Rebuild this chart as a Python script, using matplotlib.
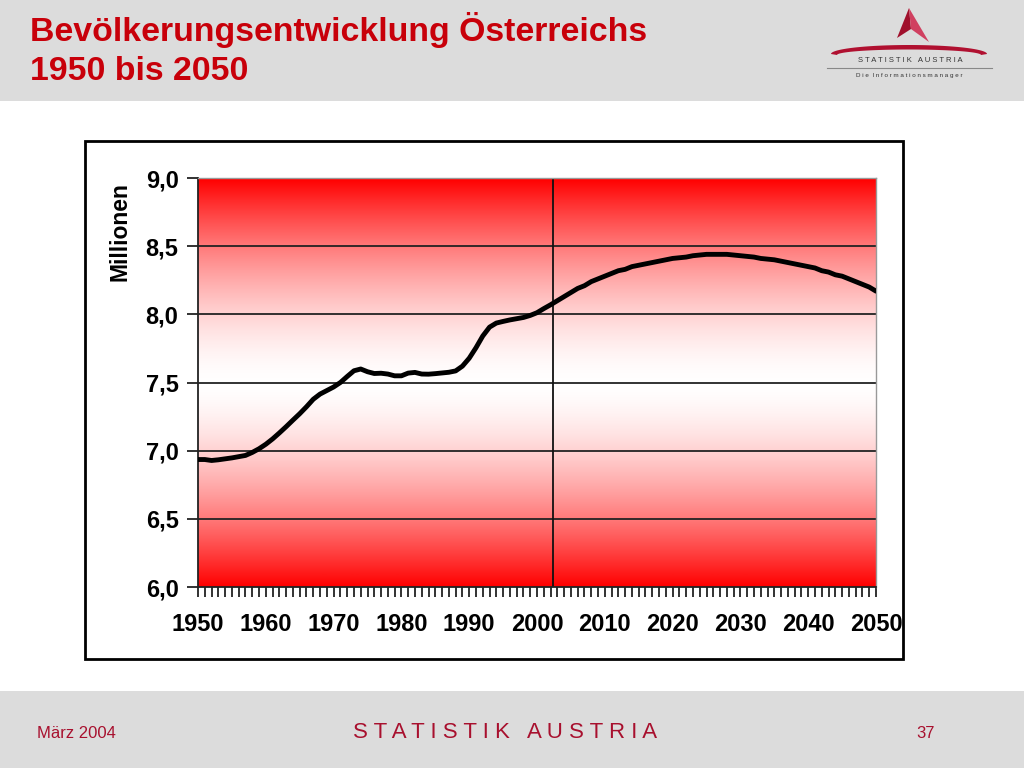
import numpy as np
import matplotlib
matplotlib.use("Agg")
import matplotlib.pyplot as plt
from matplotlib.colors import LinearSegmentedColormap
from matplotlib.patches import Rectangle, Polygon

plt.rcParams['font.family'] = ['Liberation Sans', 'DejaVu Sans']

# Data: population of Austria in millions (1950-2002 observed, then projection)
years = np.arange(1950, 2051)
population = [
    6.935, 6.935, 6.928, 6.933, 6.940, 6.947, 6.956, 6.965, 6.987, 7.014,  # 1950s
    7.047, 7.086, 7.130, 7.176, 7.224, 7.271, 7.322, 7.377, 7.415, 7.441,  # 1960s
    7.467, 7.500, 7.544, 7.586, 7.599, 7.579, 7.566, 7.568, 7.562, 7.549,  # 1970s
    7.549, 7.569, 7.574, 7.562, 7.561, 7.565, 7.570, 7.575, 7.585, 7.620,  # 1980s
    7.678, 7.755, 7.841, 7.906, 7.936, 7.948, 7.959, 7.968, 7.977, 7.992,  # 1990s
    8.012, 8.042, 8.070, 8.100, 8.130, 8.160, 8.190, 8.210, 8.240, 8.260,  # 2000s
    8.280, 8.300, 8.320, 8.330, 8.350, 8.360, 8.370, 8.380, 8.390, 8.400,  # 2010s
    8.410, 8.415, 8.420, 8.430, 8.435, 8.440, 8.440, 8.440, 8.440, 8.435,  # 2020s
    8.430, 8.425, 8.420, 8.410, 8.405, 8.400, 8.390, 8.380, 8.370, 8.360,  # 2030s
    8.350, 8.340, 8.320, 8.310, 8.290, 8.280, 8.260, 8.240, 8.220, 8.200,  # 2040s
    8.170,                                                                 # 2050
]
split_year = 2002.4  # boundary observed / projection

y_ticks = [6.0, 6.5, 7.0, 7.5, 8.0, 8.5, 9.0]
y_labels = ["6,0", "6,5", "7,0", "7,5", "8,0", "8,5", "9,0"]
x_major = list(range(1950, 2051, 10))

title = "Bevölkerungsentwicklung Österreichs\n1950 bis 2050"
title_red = "#C8000A"
brand_red = "#A8102E"
band_gray = "#DCDCDC"

fig = plt.figure(figsize=(10.24, 7.68), dpi=100)
fig.patch.set_facecolor("white")

# header / footer bands
fig.patches.append(Rectangle((0, 1 - 101 / 768), 1, 101 / 768, transform=fig.transFigure,
                             facecolor=band_gray, edgecolor="none", zorder=0))
fig.patches.append(Rectangle((0, 0), 1, 77 / 768, transform=fig.transFigure,
                             facecolor=band_gray, edgecolor="none", zorder=0))

# chart frame
fig.patches.append(Rectangle((85 / 1024, 1 - 659 / 768), 818 / 1024, 518 / 768,
                             transform=fig.transFigure, facecolor="white",
                             edgecolor="black", linewidth=2, zorder=1))

fig.text(30 / 1024, 1 - 12 / 768, title, ha="left", va="top", fontsize=24.4,
         fontweight="bold", color=title_red, linespacing=1.32)

# plot area
ax = fig.add_axes([198 / 1024, 1 - 587 / 768, 678 / 1024, 409 / 768])
ax.set_zorder(2)

# red - white - red background, white band wider than a linear ramp
d = np.abs(np.linspace(-1, 1, 41))
stops = [(i / 40, (1.0, 1 - dd ** 1.6, 1 - dd ** 1.6)) for i, dd in enumerate(d)]
cmap = LinearSegmentedColormap.from_list("rwr", stops)
grad = np.linspace(0, 1, 256).reshape(-1, 1)
ax.imshow(grad, cmap=cmap, aspect="auto", origin="lower",
          extent=[1950, 2050, 6.0, 9.0], zorder=0, interpolation="bicubic")

for v in y_ticks[1:]:
    ax.axhline(v, color="#222222", linewidth=1.3, zorder=1)
ax.axvline(split_year, color="#111111", linewidth=1.3, zorder=1)

ax.plot(years, population, color="black", linewidth=3.5, solid_capstyle="round",
        solid_joinstyle="round", zorder=3)

ax.set_xlim(1950, 2050)
ax.set_ylim(6.0, 9.0)
ax.set_yticks(y_ticks)
ax.set_yticklabels(y_labels)
ax.set_xticks(x_major)
ax.set_xticklabels([str(x) for x in x_major])
ax.set_xticks(years, minor=True)

ax.tick_params(axis="y", which="major", direction="out", length=8, width=1.3,
               color="#222222", labelsize=17, pad=6)
ax.tick_params(axis="x", which="both", direction="out", length=7, width=1.3,
               color="#222222", labelsize=17, pad=12)
for lab in ax.get_xticklabels() + ax.get_yticklabels():
    lab.set_fontweight("bold")

for side in ("left", "bottom"):
    ax.spines[side].set_color("#222222")
    ax.spines[side].set_linewidth(1.3)
for side in ("top", "right"):
    ax.spines[side].set_color("#999999")
    ax.spines[side].set_linewidth(1.0)

# unit label sits at the top of the axis
fig.text(120 / 1024, 1 - 182 / 768, "Millionen", rotation=90, ha="center", va="top",
         fontsize=16.5, fontweight="bold", color="black")

# footer texts
fig.text(37 / 1024, 1 - 734 / 768, "März 2004", ha="left", va="center", fontsize=12,
         color=brand_red)
fig.text(935 / 1024, 1 - 733 / 768, "37", ha="right", va="center", fontsize=12,
         color=brand_red)
fig.text(505 / 1024, 1 - 733 / 768, "S T A T I S T I K   A U S T R I A", ha="center",
         va="center", fontsize=16, color=brand_red)

# logo (simplified)
def px(x, y):
    return (x / 1024, 1 - y / 768)

fig.patches.append(Polygon([px(909, 8), px(897, 38), px(911, 29)], closed=True,
                           transform=fig.transFigure, facecolor="#A0102C",
                           edgecolor="none", zorder=3))
fig.patches.append(Polygon([px(909, 8), px(911, 29), px(929, 42)], closed=True,
                           transform=fig.transFigure, facecolor="#D04060",
                           edgecolor="none", zorder=3))
t = np.linspace(0, np.pi, 60)
outer = [px(909 - 78 * np.cos(a), 54 - 9 * np.sin(a)) for a in t]
inner = [px(909 + 72 * np.cos(a), 55 - 5.5 * np.sin(a)) for a in t]
fig.patches.append(Polygon(outer + inner, closed=True, transform=fig.transFigure,
                           facecolor="#B01030", edgecolor="none", zorder=3))
fig.text(910 / 1024, 1 - 60 / 768, "S T A T I S T I K   A U S T R I A", ha="center",
         va="center", fontsize=5.5, color="#333333")
fig.lines.append(plt.Line2D([827 / 1024, 992 / 1024], [1 - 68 / 768, 1 - 68 / 768],
                            transform=fig.transFigure, color="#888888", linewidth=0.8))
fig.text(909 / 1024, 1 - 76 / 768, "D i e  I n f o r m a t i o n s m a n a g e r",
         ha="center", va="center", fontsize=4.5, color="#333333")

fig.savefig("out.png", dpi=100)
